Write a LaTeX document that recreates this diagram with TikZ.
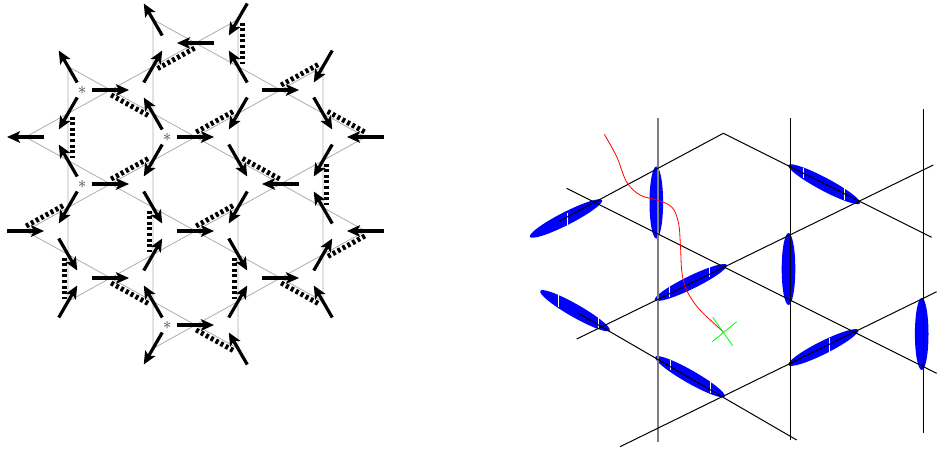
\documentclass[tikz,border=0pt]{standalone}
\usetikzlibrary{arrows.meta}
\begin{document}
\begin{tikzpicture}[
    x=1pt, y=-1pt,
    bond/.style={draw=gray!65, line width=0.8pt},
    spin/.style={-{Stealth[length=13pt, width=11.5pt, inset=3pt]}, line width=3.2pt},
    dimer/.style={line width=5pt, dash pattern=on 3pt off 2.6pt, shorten <=3pt, shorten >=3pt},
    defect/.style={text=black!75, inner sep=0pt, font=\LARGE},
    latline/.style={line width=1pt},
    blob/.style={fill=blue},
    tick/.style={draw=white, line width=1pt}
]
    \useasboundingbox (0,0) rectangle (937,448);

    % Kagome bonds (triangles given by their tip)
    \foreach \x/\y in {110.5/90, 110.5/184, 110.5/278, 195.5/43, 195.5/137, 195.5/231, 195.5/325,
                       280.5/90, 280.5/184, 280.5/278, 365.5/137, 365.5/231}
        \draw[bond] (\x,\y) -- ++(-42.5,-23.5) -- ++(0,47) -- cycle;
    \foreach \x/\y in {25.5/137, 25.5/231, 110.5/90, 110.5/184, 110.5/278, 195.5/43, 195.5/137,
                       195.5/231, 195.5/325, 280.5/90, 280.5/184, 280.5/278}
        \draw[bond] (\x,\y) -- ++(42.5,-23.5) -- ++(0,47) -- cycle;

    % Dimers
    \foreach \xa/\ya/\xb/\yb/\dx/\dy in {153/66.5/195.5/43/2/3.5, 68/113.5/68/160.5/4/0,
            110.5/90/153/113.5/-2/3.5, 110.5/184/153/160.5/-2/-3.5, 238/19.5/238/66.5/4/0,
            280.5/90/323/66.5/-2/-3.5, 195.5/137/238/113.5/-2/-3.5, 323/113.5/365.5/137/2/-3.5,
            323/160.5/323/207.5/3/0, 238/160.5/280.5/184/2/-3.5, 25.5/231/68/207.5/-2/-3.5,
            153/207.5/153/254.5/-4/0, 68/254.5/68/301.5/-4/0, 110.5/278/153/301.5/-2/3.5,
            365.5/231/323/254.5/2/3.5, 195.5/231/238/207.5/-2/-3.5, 238/254.5/238/301.5/-4/0,
            280.5/278/323/301.5/-2/3.5, 195.5/325/238/348.5/-2/3.5}
        \draw[dimer, shift={(\dx,\dy)}] (\xa,\ya) -- (\xb,\yb);

    % Spins
    \foreach \x/\y/\a in {25.5/137/180, 25.5/231/0,
            68/66.5/120, 68/113.5/240, 68/160.5/120, 68/207.5/240, 68/254.5/300, 68/301.5/60,
            110.5/90/0, 110.5/184/0, 110.5/278/0,
            153/19.5/120, 153/66.5/60, 153/113.5/120, 153/160.5/240, 153/207.5/300, 153/254.5/60,
            153/301.5/120, 153/348.5/240,
            195.5/43/180, 195.5/137/0, 195.5/231/0, 195.5/325/0,
            238/19.5/240, 238/66.5/120, 238/113.5/240, 238/160.5/300, 238/207.5/240, 238/254.5/300,
            238/301.5/60, 238/348.5/120,
            280.5/90/0, 280.5/184/180, 280.5/278/0,
            323/66.5/240, 323/113.5/300, 323/160.5/240, 323/207.5/120, 323/254.5/60, 323/301.5/120,
            365.5/137/180, 365.5/231/180}
        \draw[spin] (\x,\y) ++(180-\a:18.5) -- ++(-\a:37);

    % Empty triangles
    \foreach \x/\y [count=\i] in {82.2/90, 167.2/137, 82.2/184, 167.2/325}
        \node[defect] (star\i) at (\x,\y) {$\ast$};

    % Dimers on the enlarged lattice
    \foreach \x/\y/\r/\t in {566/218.5/40.5/27, 690.8/282.5/40/26, 824.2/184.2/40.6/-28,
            823.3/347.5/39/26.6, 690/376.7/40/-29.7, 575/310.7/40/-29.7}
        \fill[blob, rotate around={\t:(\x,\y)}] (\x,\y) ellipse [x radius=\r, y radius=6.5];
    \foreach \x/\y in {656.3/202.5, 788.5/269, 921.7/334}
        \fill[blob] (\x,\y) ellipse [x radius=6.8, y radius=36];
    \foreach \x/\ya/\yb in {567.7/213/225, 669.3/287/297, 709.3/267/277, 803.3/168/178, 844/188/200,
            829/338/352, 670.7/360/370, 710.7/381.7/393.3, 558.3/295/306.7, 598.3/318/328}
        \draw[tick] (\x,\ya) -- (\x,\yb);

    % Lattice lines
    \draw[latline, draw=gray, line width=2pt] (657.7,118.3) -- (657.7,441.7);
    \draw[latline] (790.7,118.3) -- (790.7,440);
    \draw[latline] (923.3,109.3) -- (923.3,432.7);
    \draw[latline] (566.7,188.3) -- (936.7,373.3);
    \draw[latline] (558.3,221.7) -- (723.3,133.3) -- (931.7,237.3);
    \draw[latline] (578.3,313.3) -- (796.7,440);
    \draw[latline] (576.7,339) -- (933.3,165);
    \draw[latline] (620,446.7) -- (936.7,291.7);

    % String and its end point
    \draw[red, line width=0.8pt] plot[smooth, tension=0.6] coordinates {(604.3,134.3) (616.7,156.7)
        (626.7,182) (640,195) (656.7,200) (671.7,207) (678.5,223) (680.5,247) (682,273) (687,291)
        (700,310) (723.3,331.7)};
    \coordinate (end) at (723.3,331.7);
    \draw[green, line width=0.8pt] (712.7,317.3) -- (732.7,345.7) (712.3,341.7) -- (736.7,321.7);
\end{tikzpicture}
\end{document}
